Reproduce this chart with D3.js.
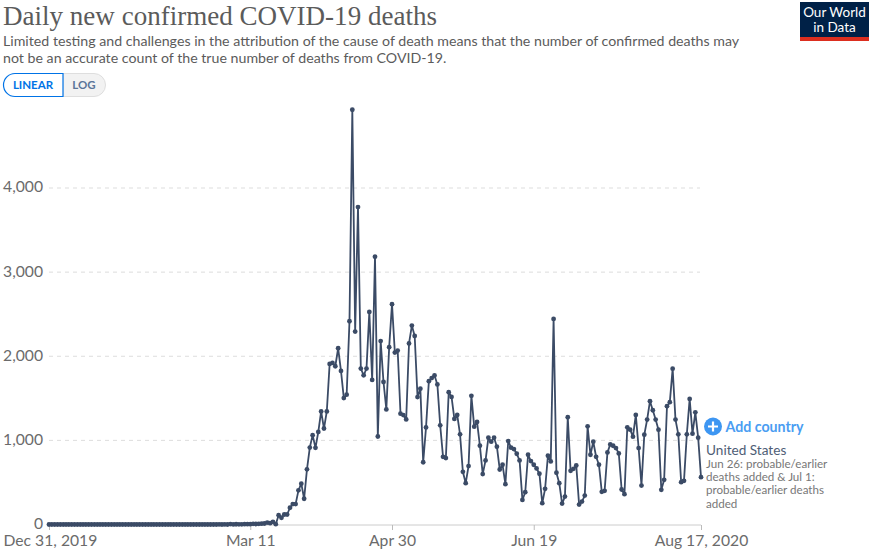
<!DOCTYPE html>
<html>
<head>
<meta charset="utf-8">
<script src="https://cdn.jsdelivr.net/npm/d3@7"></script>
<style>
    html, body { margin: 0; padding: 0; background: #fff; }
    text { font-family: Lato, sans-serif; }
</style>
</head>
<body>
<svg id="chart" width="873" height="551"></svg>
<script>
// Data, one value per day starting Dec 31, 2019
const startDate = "2019-12-31";
const deaths = [
    0,0,0,0,0,0,0,0,0,0, 0,0,0,0,0,0,0,0,0,0,
    0,0,0,0,0,0,0,0,0,0, 0,0,0,0,0,0,0,0,0,0,
    0,0,0,0,0,0,0,0,0,0, 0,0,0,0,0,0,0,0,0,0,
    1,0,1,0,5,1,3,2,2,4, 4,4,8,6,8,
    10,12,23,16,32,4,110,80,119,119,
    199,243,243,406,485,306,656,915,1062,911,
    1100,1344,1141,1344,1909,1921,1881,2095,1825,1503,
    1543,2416,4930,2293,3773,1853,1774,1853,2527,1718,
    3184,1046,2180,1694,1368,2108,2619,2044,2068,1317,
    1301,1249,2152,2365,2241,1515,1615,740,1154,1704,
    1740,1772,1665,1179,805,790,1573,1517,1255,1302,
    1072,626,491,694,1529,1163,1219,937,599,762,
    1032,984,1032,925,654,710,479,992,913,897,
    841,762,292,384,829,754,710,666,603,253,
    424,817,750,2444,615,491,249,332,1275,638,
    662,702,237,272,344,1167,829,984,805,710,
    388,400,857,952,936,909,845,416,360,1155,
    1127,1044,1303,909,463,1068,1247,1466,1358,1247,
    1127,412,531,1406,1454,1852,1247,1072,503,519,
    1072,1493,1080,1334,1032,563
];
const yTicks = [0, 1000, 2000, 3000, 4000];
const xTickDates = ["2019-12-31", "2020-03-11", "2020-04-30", "2020-06-19", "2020-08-17"];
const xTickLabels = ["Dec 31, 2019", "Mar 11", "Apr 30", "Jun 19", "Aug 17, 2020"];
const subtitleLines = [
    "Limited testing and challenges in the attribution of the cause of death means that the number of confirmed deaths may",
    "not be an accurate count of the true number of deaths from COVID-19."
];
const noteLines = ["Jun 26: probable/earlier", "deaths added & Jul 1:", "probable/earlier deaths", "added"];

const parseDay = d3.utcParse("%Y-%m-%d");
const series = deaths.map((v, i) => ({ date: d3.utcDay.offset(parseDay(startDate), i), value: v }));

const svg = d3.select("#chart");

const x = d3.scaleUtc()
    .domain([parseDay(xTickDates[0]), parseDay(xTickDates[4])])
    .range([49, 701]);
const y = d3.scaleLinear()
    .domain([0, 4000])
    .range([524.5, 188]);

// --- Header ---
svg.append("text")
    .attr("x", 3).attr("y", 25)
    .attr("textLength", 434).attr("lengthAdjust", "spacingAndGlyphs")
    .style("font-family", "'Liberation Serif', serif")
    .style("font-size", "27px")
    .attr("fill", "#5b5b5b")
    .text("Daily new confirmed COVID-19 deaths");

svg.selectAll(".subtitle").data(subtitleLines).enter().append("text")
    .attr("class", "subtitle")
    .attr("x", 3)
    .attr("y", (d, i) => 46 + i * 17)
    .style("font-size", "14.2px")
    .attr("fill", "#5b5b5b")
    .text(d => d);

// --- Logo ---
svg.append("rect").attr("x", 800).attr("y", 2).attr("width", 69).attr("height", 39).attr("fill", "#002147");
svg.append("rect").attr("x", 800).attr("y", 37).attr("width", 69).attr("height", 4).attr("fill", "#dc2e1f");
svg.selectAll(".logo").data(["Our World", "in Data"]).enter().append("text")
    .attr("class", "logo")
    .attr("x", 834.5)
    .attr("y", (d, i) => 17 + i * 15)
    .attr("text-anchor", "middle")
    .style("font-size", "13.5px")
    .attr("fill", "#fff")
    .text(d => d);

// --- Scale toggle ---
svg.append("path")
    .attr("d", "M63 73.5H94a11.5 11.5 0 0 1 0 23H63Z")
    .attr("fill", "#f2f2f2").attr("stroke", "#dedede");
svg.append("path")
    .attr("d", "M63 73.5H15a11.5 11.5 0 0 0 0 23H63Z")
    .attr("fill", "#fff").attr("stroke", "#0073e6").attr("stroke-width", 1.2);
svg.append("text").attr("x", 33).attr("y", 88.5).attr("text-anchor", "middle")
    .style("font-size", "11.5px").style("font-weight", 700).attr("fill", "#0073e6").text("LINEAR");
svg.append("text").attr("x", 84).attr("y", 88.5).attr("text-anchor", "middle")
    .style("font-size", "11.5px").style("font-weight", 700).attr("fill", "#5b7599").text("LOG");

// --- Axes ---
const yAxis = svg.append("g")
    .attr("transform", "translate(49,0)")
    .call(d3.axisLeft(y).tickValues(yTicks).tickSize(0).tickPadding(6).tickFormat(d3.format(",")));
yAxis.select(".domain").remove();
yAxis.selectAll("text")
    .attr("dy", "0.25em")
    .style("font-size", "15.7px")
    .style("font-family", "Lato, sans-serif")
    .attr("fill", "#6b6b6b");
svg.selectAll(".grid").data(yTicks.filter(d => d > 0)).enter().append("line")
    .attr("class", "grid")
    .attr("x1", 49).attr("x2", 700)
    .attr("y1", d => y(d)).attr("y2", d => y(d))
    .attr("stroke", "#ddd").attr("stroke-dasharray", "4,4");

const xAxis = svg.append("g")
    .attr("transform", "translate(0,525)")
    .call(d3.axisBottom(x)
        .tickValues(xTickDates.map(parseDay))
        .tickSize(5).tickPadding(5)
        .tickFormat((d, i) => xTickLabels[i]));
xAxis.select(".domain").attr("d", "M49,0H701").attr("stroke", "#ccc");
xAxis.selectAll("line").attr("stroke", "#bbb");
xAxis.selectAll("text")
    .style("font-size", "15.7px")
    .style("font-family", "Lato, sans-serif")
    .attr("fill", "#6b6b6b");
// first label is pushed right so it stays inside the window
xAxis.selectAll("text").filter((d, i) => i === 0).attr("text-anchor", "start").attr("x", -46);

// --- Line and points ---
const line = d3.line().x(d => x(d.date)).y(d => y(d.value));
svg.append("path")
    .datum(series)
    .attr("d", line)
    .attr("fill", "none")
    .attr("stroke", "#3b4b66")
    .attr("stroke-width", 1.8)
    .attr("stroke-linejoin", "round");
svg.append("g").selectAll("circle").data(series).enter().append("circle")
    .attr("cx", d => x(d.date))
    .attr("cy", d => y(d.value))
    .attr("r", 2.4)
    .attr("fill", "#3b4b66");

// --- Right-hand labels ---
svg.append("circle").attr("cx", 713).attr("cy", 426.5).attr("r", 9).attr("fill", "#3d96f2");
svg.append("path").attr("d", "M713 421.5V431.5M708 426.5H718").attr("stroke", "#fff").attr("stroke-width", 2.2);
svg.append("text").attr("x", 725.5).attr("y", 432)
    .style("font-size", "14.2px").style("font-weight", 700).attr("fill", "#4a9df2").text("Add country");
svg.append("text").attr("x", 706).attr("y", 455)
    .style("font-size", "13.6px").attr("fill", "#4e5d75").text("United States");
svg.selectAll(".note").data(noteLines).enter().append("text")
    .attr("class", "note")
    .attr("x", 706)
    .attr("y", (d, i) => 467.5 + i * 13.4)
    .style("font-size", "11.6px")
    .attr("fill", "#777")
    .text(d => d);
</script>
</body>
</html>
